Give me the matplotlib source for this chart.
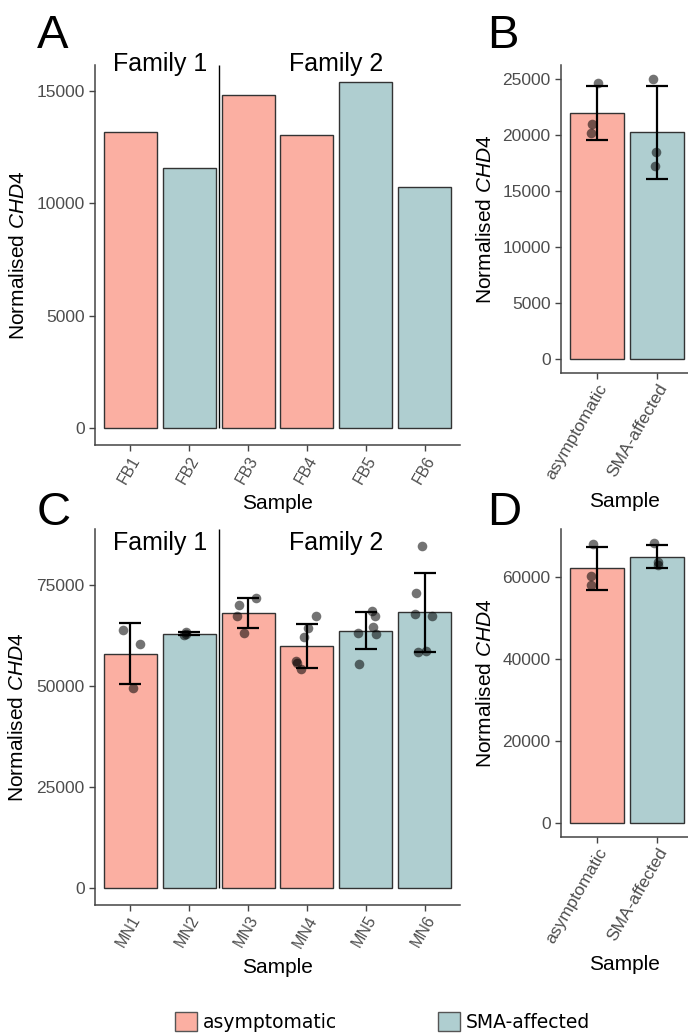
import numpy as np
import matplotlib
matplotlib.use("Agg")
import matplotlib.pyplot as plt
from matplotlib.patches import Patch

# fonts
plt.rcParams['font.family'] = ['Liberation Sans', 'DejaVu Sans']
plt.rcParams['mathtext.fontset'] = 'custom'
plt.rcParams['mathtext.rm'] = 'Liberation Sans'
plt.rcParams['mathtext.it'] = 'Liberation Sans:italic'

# colours
PINK = '#FBAFA2'
TEAL = '#AFCED0'

# ---- data ----
fb_samples = ['FB1', 'FB2', 'FB3', 'FB4', 'FB5', 'FB6']
fb_status = ['asymptomatic', 'SMA-affected', 'asymptomatic', 'asymptomatic', 'SMA-affected', 'SMA-affected']
fb_values = [13180, 11560, 14840, 13070, 15400, 10720]

# panel B: fibroblast values pooled by status
fbgrp_points = {
    'asymptomatic': [24700, 20955, 20206],
    'SMA-affected': [25027, 18482, 17259],
}
fbgrp_jitter = {
    'asymptomatic': [0.02, -0.08, -0.10],
    'SMA-affected': [-0.07, -0.02, -0.03],
}

# panel C: motor neurons, replicate points per sample
mn_samples = ['MN1', 'MN2', 'MN3', 'MN4', 'MN5', 'MN6']
mn_status = fb_status
mn_points = [
    [63881, 60511, 49445],
    [62700, 63000, 63300],
    [71830, 70169, 67226, 63202],
    [67402, 64283, 62196, 56085, 55657, 54223],
    [68483, 67226, 64711, 63202, 62774, 55481],
    [84580, 72935, 67905, 67226, 58423, 58675],
]
mn_jitter = [
    [-0.13, 0.17, 0.05],
    [-0.08, -0.06, -0.05],
    [0.13, -0.16, -0.18, -0.07],
    [0.16, 0.02, -0.05, -0.19, -0.17, -0.10],
    [0.10, 0.16, 0.13, -0.13, 0.18, -0.12],
    [-0.05, -0.15, -0.16, 0.12, -0.12, 0.02],
]

# panel D: motor neuron values pooled by status
mngrp_points = {
    'asymptomatic': [68111, 60242, 58050],
    'SMA-affected': [68355, 63653, 63092],
}
mngrp_jitter = {
    'asymptomatic': [-0.07, -0.10, -0.10],
    'SMA-affected': [-0.05, 0.01, 0.02],
}

groups = ['asymptomatic', 'SMA-affected']
col = {'asymptomatic': PINK, 'SMA-affected': TEAL}

fig = plt.figure(figsize=(6.88, 10.35), dpi=100)
axA = fig.add_axes([0.1381, 0.5700, 0.5305, 0.3671])
axB = fig.add_axes([0.8154, 0.6399, 0.1846, 0.2973])
axC = fig.add_axes([0.1381, 0.1256, 0.5305, 0.3630])
axD = fig.add_axes([0.8154, 0.1916, 0.1846, 0.2973])

ylab = r'Normalised $\mathit{CHD4}$'


def style(ax, ticks, labels, xsize):
    for s in ['top', 'right']:
        ax.spines[s].set_visible(False)
    for s in ['left', 'bottom']:
        ax.spines[s].set_color('#444444')
        ax.spines[s].set_linewidth(1.1)
    ax.tick_params(colors='#444444', labelcolor='#4D4D4D', labelsize=12.5, length=4, width=1)
    ax.tick_params(axis='x', labelsize=xsize, pad=2)
    ax.set_xticks(range(1, len(labels) + 1))
    ax.set_xticklabels(labels, rotation=60, ha='right', rotation_mode='anchor')
    ax.set_yticks(ticks)
    ax.set_ylabel(ylab, fontsize=15)
    ax.set_xlabel('Sample', fontsize=15)


def bars(ax, heights, status):
    x = np.arange(1, len(heights) + 1)
    ax.bar(x, heights, width=0.9, color=[col[s] for s in status],
           edgecolor='#333333', linewidth=1, zorder=2)


def points(ax, xc, pts, jit):
    pts = np.array(pts, dtype=float)
    ax.scatter(xc + np.array(jit), pts, s=48, color='black', alpha=0.55,
               linewidths=0, zorder=3)
    m = pts.mean()
    sd = pts.std(ddof=1)
    ax.errorbar(xc, m, yerr=sd, color='black', capsize=8, elinewidth=1.6,
                capthick=1.6, zorder=4)


def ylim_for(top):
    return -top * 0.05, top * 1.05


# ---- A ----
bars(axA, fb_values, fb_status)
style(axA, [0, 5000, 10000, 15000], fb_samples, 11.5)
lo, hi = ylim_for(max(fb_values))
axA.set_ylim(lo, hi)
axA.set_xlim(0.4, 6.6)
axA.vlines(2.5, 0, hi, color='black', lw=1, zorder=5, clip_on=False)
axA.text(1.5, 15890, 'Family 1', ha='center', va='baseline', fontsize=18, clip_on=False)
axA.text(4.5, 15890, 'Family 2', ha='center', va='baseline', fontsize=18, clip_on=False)

# ---- B ----
b_means = [np.mean(fbgrp_points[g]) for g in groups]
bars(axB, b_means, groups)
for i, g in enumerate(groups):
    points(axB, i + 1, fbgrp_points[g], fbgrp_jitter[g])
style(axB, [0, 5000, 10000, 15000, 20000, 25000], groups, 12.5)
axB.set_ylim(*ylim_for(max(max(v) for v in fbgrp_points.values())))
axB.set_xlim(0.4, 2.517)

# ---- C ----
c_means = [np.mean(p) for p in mn_points]
bars(axC, c_means, mn_status)
for i in range(len(mn_samples)):
    points(axC, i + 1, mn_points[i], mn_jitter[i])
style(axC, [0, 25000, 50000, 75000], mn_samples, 11.5)
lo, hi = ylim_for(max(max(p) for p in mn_points))
axC.set_ylim(lo, hi)
axC.set_xlim(0.4, 6.6)
axC.vlines(2.5, 0, hi, color='black', lw=1, zorder=5)
axC.text(1.5, 83600, 'Family 1', ha='center', va='baseline', fontsize=18)
axC.text(4.5, 83600, 'Family 2', ha='center', va='baseline', fontsize=18)

# ---- D ----
d_means = [np.mean(mngrp_points[g]) for g in groups]
bars(axD, d_means, groups)
for i, g in enumerate(groups):
    points(axD, i + 1, mngrp_points[g], mngrp_jitter[g])
style(axD, [0, 20000, 40000, 60000], groups, 12.5)
axD.set_ylim(*ylim_for(max(max(v) for v in mngrp_points.values())))
axD.set_xlim(0.4, 2.517)

# label positions
axA.yaxis.set_label_coords(-0.184, 0.5)
axC.yaxis.set_label_coords(-0.186, 0.5)
axB.yaxis.set_label_coords(-0.52, 0.5)
axD.yaxis.set_label_coords(-0.52, 0.5)
axA.xaxis.set_label_coords(0.5, -0.13)
axC.xaxis.set_label_coords(0.5, -0.142)
axB.xaxis.set_label_coords(0.5, -0.388)
axD.xaxis.set_label_coords(0.5, -0.386)

# panel letters
for lab, x, y in [('A', 37, 48), ('B', 487, 48), ('C', 37, 525), ('D', 487, 525)]:
    fig.text(x / 688, 1 - y / 1035, lab, fontsize=34, ha='left', va='baseline')

# legend
handles = [Patch(facecolor=col[g], edgecolor='#555555', label=g) for g in groups]
fig.legend(handles=handles, loc='center', bbox_to_anchor=(0.556, 0.0126), ncol=2,
           frameon=False, borderpad=0, handlelength=1.17, handleheight=1.17,
           handletextpad=0.32, columnspacing=5.4,
           prop={'family': 'DejaVu Sans', 'size': 13.5})

fig.savefig('out.png', dpi=100)
